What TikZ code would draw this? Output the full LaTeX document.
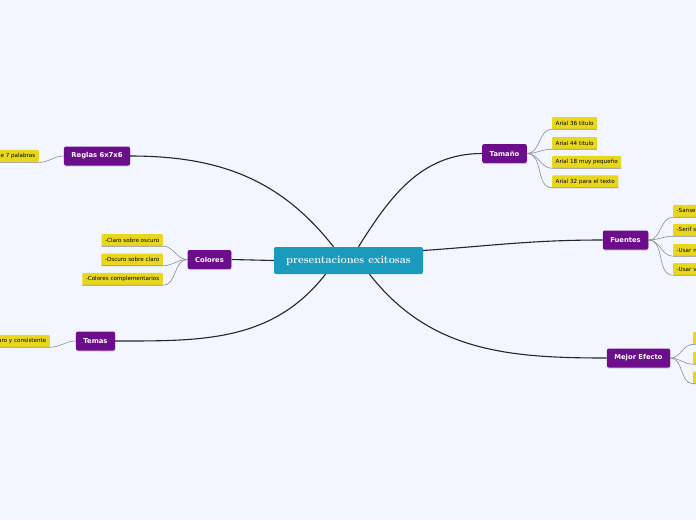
\documentclass[tikz,border=0pt]{standalone}
\usepackage{fontspec}
\setsansfont{DejaVu Sans}
\usetikzlibrary{positioning, shadows}
\definecolor{bgblue}{HTML}{F3F6FE}
\definecolor{rootteal}{HTML}{1A9BBE}
\definecolor{topicpurple}{HTML}{6C0D8C}
\definecolor{leafyellow}{HTML}{E8D71C}
\tikzset{
x=1pt, y=-1pt, % one unit is one pixel of the reference, y runs downwards
root/.style={fill=rootteal, rounded corners=2pt, text=white, minimum width=149pt, minimum height=27pt, font=\bfseries\fontsize{11}{13}\selectfont}, % the central idea
topic/.style={fill=topicpurple, rounded corners=2pt, text=white, minimum height=19pt, inner xsep=7.5pt, font=\sffamily\bfseries\fontsize{6.8}{8}\selectfont, drop shadow={shadow xshift=0.4pt, shadow yshift=-1.2pt, fill=black!30}}, % purple branches
leaf/.style={fill=leafyellow, rounded corners=1pt, minimum height=12pt, inner xsep=3.5pt, font=\sffamily\fontsize{5.6}{6}\selectfont}, % yellow sub items
mainline/.style={draw=black!85, line width=1.1pt}, % root to branch
subline/.style={draw=black!45, line width=0.6pt}, % branch to sub item
}

\begin{document}
\begin{tikzpicture}
    \fill[bgblue] (0,0) rectangle (696,520);
    \useasboundingbox (0,0) rectangle (696,520);

    \node[root] (root) at (348.5,260.5) {presentaciones exitosas};

    \node[topic] (reglas) at (97,156) {Reglas 6x7x6};
    \node[topic] (tamano) at (504.5,153.5) {Tamaño};
    \node[topic] (colores) at (209.5,259.5) {Colores};
    \node[topic] (fuentes) at (625.5,240) {Fuentes};
    \node[topic] (temas) at (95.5,341) {Temas};
    \node[topic] (efecto) at (638.5,358) {Mejor Efecto};

    % sub items
    \node[leaf, anchor=east] (r1) at (39,156) {-6 líneas de 7 palabras};
    \node[leaf, anchor=west] (t1) at (552,123) {Arial 36 titulo};
    \node[leaf, anchor=west] (t2) at (552,143) {Arial 44 titulo};
    \node[leaf, anchor=west] (t3) at (552,162) {Arial 18 muy pequeño};
    \node[leaf, anchor=west] (t4) at (552,181.5) {Arial 32 para el texto};
    \node[leaf, anchor=east] (c1) at (163,240) {-Claro sobre oscuro};
    \node[leaf, anchor=east] (c2) at (163,259.5) {-Oscuro sobre claro};
    \node[leaf, anchor=east] (c3) at (163,279) {-Colores complementarios};
    \node[leaf, anchor=west] (f1) at (673,211) {-Sanserif en pantalla};
    \node[leaf, anchor=west] (f2) at (673,230) {-Serif sobre papel};
    \node[leaf, anchor=west] (f3) at (673,250) {-Usar máximo dos};
    \node[leaf, anchor=west] (f4) at (673,269) {-Usar variantes};
    \node[leaf, anchor=east] (m1) at (50,341) {-Tema claro y consistente};
    \node[leaf, anchor=west] (e1) at (693,338) {-Imágenes};
    \node[leaf, anchor=west] (e2) at (693,358) {-Gráficos};
    \node[leaf, anchor=west] (e3) at (693,377.5) {-Animación};

    % main branches
    \draw[mainline] (reglas.east) to[out=0, in=128] ([xshift=-15pt]root.north);
    \draw[mainline] ([xshift=10pt]root.north) to[out=58, in=180] (tamano.west);
    \draw[mainline] (root.west) -- (colores.east);
    \draw[mainline] ([yshift=10pt]root.east) to[out=4, in=180] (fuentes.west);
    \draw[mainline] ([xshift=-23pt]root.south) to[out=-128, in=0] (temas.east);
    \draw[mainline] ([xshift=21pt]root.south) to[out=-52, in=180] (efecto.west);

    % sub branches
    \draw[subline] (reglas.west) to[out=180, in=0] (r1.south east) -- (r1.south west);
    \foreach \k in {t1,t2,t3,t4}
        \draw[subline] (tamano.east) to[out=0, in=180] (\k.south west) -- (\k.south east);
    \foreach \k in {c1,c2,c3}
        \draw[subline] (colores.west) to[out=180, in=0] (\k.south east) -- (\k.south west);
    \foreach \k in {f1,f2,f3,f4}
        \draw[subline] (fuentes.east) to[out=0, in=180] (\k.south west) -- (\k.south east);
    \draw[subline] (temas.west) to[out=180, in=0] (m1.south east) -- (m1.south west);
    \foreach \k in {e1,e2,e3}
        \draw[subline] (efecto.east) to[out=0, in=180] (\k.south west) -- (\k.south east);
\end{tikzpicture}
\end{document}
